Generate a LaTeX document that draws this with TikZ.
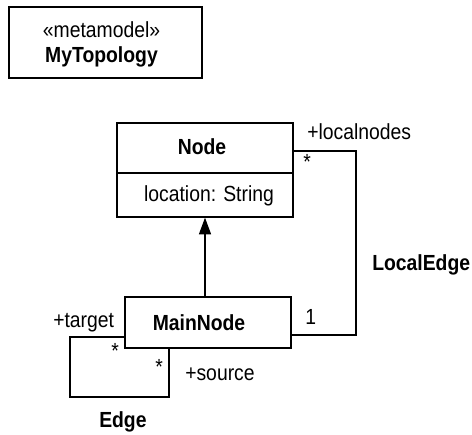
\documentclass[tikz,border=0pt]{standalone}
\usepackage{fontspec}
\usepackage{graphicx}
\setmainfont{Liberation Sans}
\usetikzlibrary{arrows.meta}
\newcommand{\umlfont}{\fontsize{16.4}{19}\selectfont}
\newcommand{\umlnarrow}[1]{\scalebox{0.885}[1]{#1}}
\tikzset{
  umlbox/.style={draw, line width=1pt, rectangle, inner sep=0pt},
  umltext/.style={inner sep=0pt, font=\umlfont},
  umlline/.style={line width=1pt},
}
\begin{document}
\begin{tikzpicture}[x=0.75pt,y=0.75pt,yscale=-1,xscale=1]
\path [use as bounding box] (0,0) rectangle (472,435);

%Shape: Rectangle (metamodel)
\node [umlbox, minimum width=193*0.75pt, minimum height=71*0.75pt] (topology) at (105.5,42.5) {};
\node [umltext, anchor=base] (stereo) at (101.5,38) {\umlnarrow{«metamodel»}};
\node [umltext, anchor=base, font=\umlfont\bfseries] (topname) at (101.5,63) {\umlnarrow{MyTopology}};

%Shape: Rectangle (Node class)
\node [umlbox, minimum width=176*0.75pt, minimum height=50*0.75pt] (nodehead) at (205,148) {};
\node [umlbox, minimum width=176*0.75pt, minimum height=44*0.75pt] (nodeattr) at (205,195) {};
\node [umltext, anchor=base, font=\umlfont\bfseries] (nodename) at (202,155) {\umlnarrow{Node}};
\node [umltext, anchor=base] (nodeloc) at (209,202) {\umlnarrow{location: String}};

%Shape: Rectangle (MainNode class)
\node [umlbox, minimum width=166*0.75pt, minimum height=51*0.75pt] (mainnode) at (208,322.5) {};
\node [umltext, anchor=base, font=\umlfont\bfseries] (mainname) at (199,330) {\umlnarrow{MainNode}};

%Straight Lines (generalization)
\draw [umlline, -{Triangle[length=12.5pt,width=9pt]}] (mainnode.north -| nodeattr.south) -- (nodeattr.south);

%Straight Lines (LocalEdge)
\coordinate (le1) at (356,151);
\coordinate (le2) at (356,335);
\draw [umlline] (nodehead.east |- le1) -- (le1) -- (le2) -- (mainnode.east |- le2);

%Straight Lines (Edge, self loop)
\coordinate (ed1) at (70,337);
\coordinate (ed2) at (70,397);
\coordinate (ed3) at (169,397);
\draw [umlline] (mainnode.west |- ed1) -- (ed1) -- (ed2) -- (ed3) -- (mainnode.south -| ed3);

%Labels
\node [umltext, anchor=base west] (lnrole) at (307,140) {\umlnarrow{+localnodes}};
\node [umltext, anchor=base west] (lnmult) at (303,170) {\umlnarrow{*}};
\node [umltext, anchor=base west, font=\umlfont\bfseries] (lename) at (372,270) {\umlnarrow{LocalEdge}};
\node [umltext, anchor=base west] (lemult) at (305,324) {\umlnarrow{1}};
\node [umltext, anchor=base west] (tgrole) at (53,327) {\umlnarrow{+target}};
\node [umltext, anchor=base west] (tgmult) at (111,358) {\umlnarrow{*}};
\node [umltext, anchor=base west] (srmult) at (155,374) {\umlnarrow{*}};
\node [umltext, anchor=base west] (srrole) at (185,380) {\umlnarrow{+source}};
\node [umltext, anchor=base west, font=\umlfont\bfseries] (edname) at (99,427) {\umlnarrow{Edge}};

\end{tikzpicture}
\end{document}
